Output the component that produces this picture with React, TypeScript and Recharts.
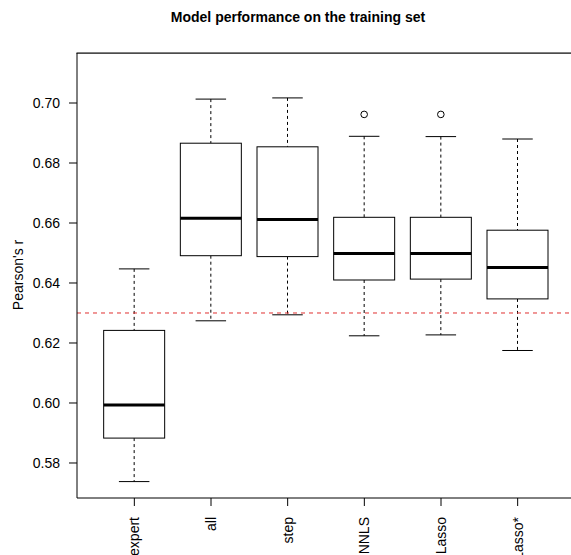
import { Bar, ComposedChart, ReferenceLine, XAxis, YAxis } from 'recharts';

const categories = ['expert', 'all', 'step', 'NNLS', 'Lasso', 'Lasso*'];
const whiskerLow = [0.5738, 0.6274, 0.6294, 0.6224, 0.6227, 0.6175];
const lowerQuartile = [0.5883, 0.6491, 0.6488, 0.641, 0.6413, 0.6347];
const medians = [0.5993, 0.6616, 0.6612, 0.6498, 0.6498, 0.6452];
const upperQuartile = [0.6242, 0.6866, 0.6854, 0.6619, 0.6619, 0.6576];
const whiskerHigh = [0.6447, 0.7013, 0.7017, 0.6889, 0.6888, 0.688];
const outliers = [[], [], [], [0.6962], [0.6962], []];

const threshold = 0.63;
const yTicks = [0.58, 0.6, 0.62, 0.64, 0.66, 0.68, 0.7];
const yDomain = [0.56833, 0.71667];

const FONT = '"Liberation Sans", Arial, Helvetica, sans-serif';

const data = categories.map((name, i) => ({
    name,
    low: whiskerLow[i],
    q1: lowerQuartile[i],
    med: medians[i],
    q3: upperQuartile[i],
    high: whiskerHigh[i],
    out: outliers[i],
    range: [whiskerLow[i], whiskerHigh[i]]
}));

// draws one R-style box from the pixel span the bar gets for [low, high]
const BoxShape = (props) => {
    const { x, y, width, height, payload } = props;
    const { low, high, q1, med, q3, out } = payload;
    const k = height / (high - low);
    const py = (v) => y + (high - v) * k;
    const cx = x + width / 2;
    const cap = width / 4;
    const dash = '3 3';
    return (
        <g>
            <line x1={cx} x2={cx} y1={py(high)} y2={py(q3)} stroke="#000" strokeDasharray={dash} />
            <line x1={cx} x2={cx} y1={py(q1)} y2={py(low)} stroke="#000" strokeDasharray={dash} />
            <line x1={cx - cap} x2={cx + cap} y1={py(high)} y2={py(high)} stroke="#000" />
            <line x1={cx - cap} x2={cx + cap} y1={py(low)} y2={py(low)} stroke="#000" />
            <rect x={x} y={py(q3)} width={width} height={py(q1) - py(q3)} fill="#fff" stroke="#000" />
            <line x1={x} x2={x + width} y1={py(med)} y2={py(med)} stroke="#000" strokeWidth={3} />
            {out.map((v, j) => (
                <circle key={j} cx={cx} cy={py(v)} r={3.3} fill="none" stroke="#000" />
            ))}
        </g>
    );
};

const XTick = ({ x, y, payload }) => (
    <text x={x} y={y + 9} transform={`rotate(-90, ${x}, ${y + 9})`} textAnchor="end" dy="0.35em"
          fontSize={14} fontFamily={FONT} fill="#000">
        {payload.value}
    </text>
);

export default function App() {
    return (
        <div style={{ position: 'absolute', left: 0, top: 0, width: 571, height: 555, overflow: 'hidden', background: '#fff' }}>
            <ComposedChart width={580} height={555} data={data} barCategoryGap="10%"
                           margin={{ top: 53, right: 6, bottom: 0, left: 0 }}>
                <XAxis dataKey="name" type="category" height={57} padding={{ left: 19, right: 18 }}
                       tickSize={8} tickLine={{ stroke: '#000' }} axisLine={{ stroke: '#000' }}
                       tick={<XTick />} interval={0} />
                <YAxis type="number" domain={yDomain} ticks={yTicks} width={77} allowDataOverflow
                       tickFormatter={(v) => v.toFixed(2)} tickSize={8} tickMargin={9}
                       tickLine={{ stroke: '#000' }} axisLine={{ stroke: '#000' }}
                       tick={{ fill: '#000', fontSize: 14, fontFamily: FONT }} />
                <Bar dataKey="range" shape={<BoxShape />} isAnimationActive={false} />
                <ReferenceLine y={threshold} stroke="#e03030" strokeDasharray="4 4" />
            </ComposedChart>
            <svg width={571} height={555} style={{ position: 'absolute', left: 0, top: 0, pointerEvents: 'none' }}>
                {/* top edge of the plot frame */}
                <rect x={76.5} y={52.5} width={500} height={1.2} fill="#000" />
                <text x={298} y={22} textAnchor="middle" fontSize={14} fontWeight="bold" fontFamily={FONT} fill="#000">
                    Model performance on the training set
                </text>
                <text x={18} y={275} transform="rotate(-90, 18, 275)" textAnchor="middle" dy="0.35em"
                      fontSize={14} fontFamily={FONT} fill="#000">
                    Pearson's r
                </text>
            </svg>
        </div>
    );
}
